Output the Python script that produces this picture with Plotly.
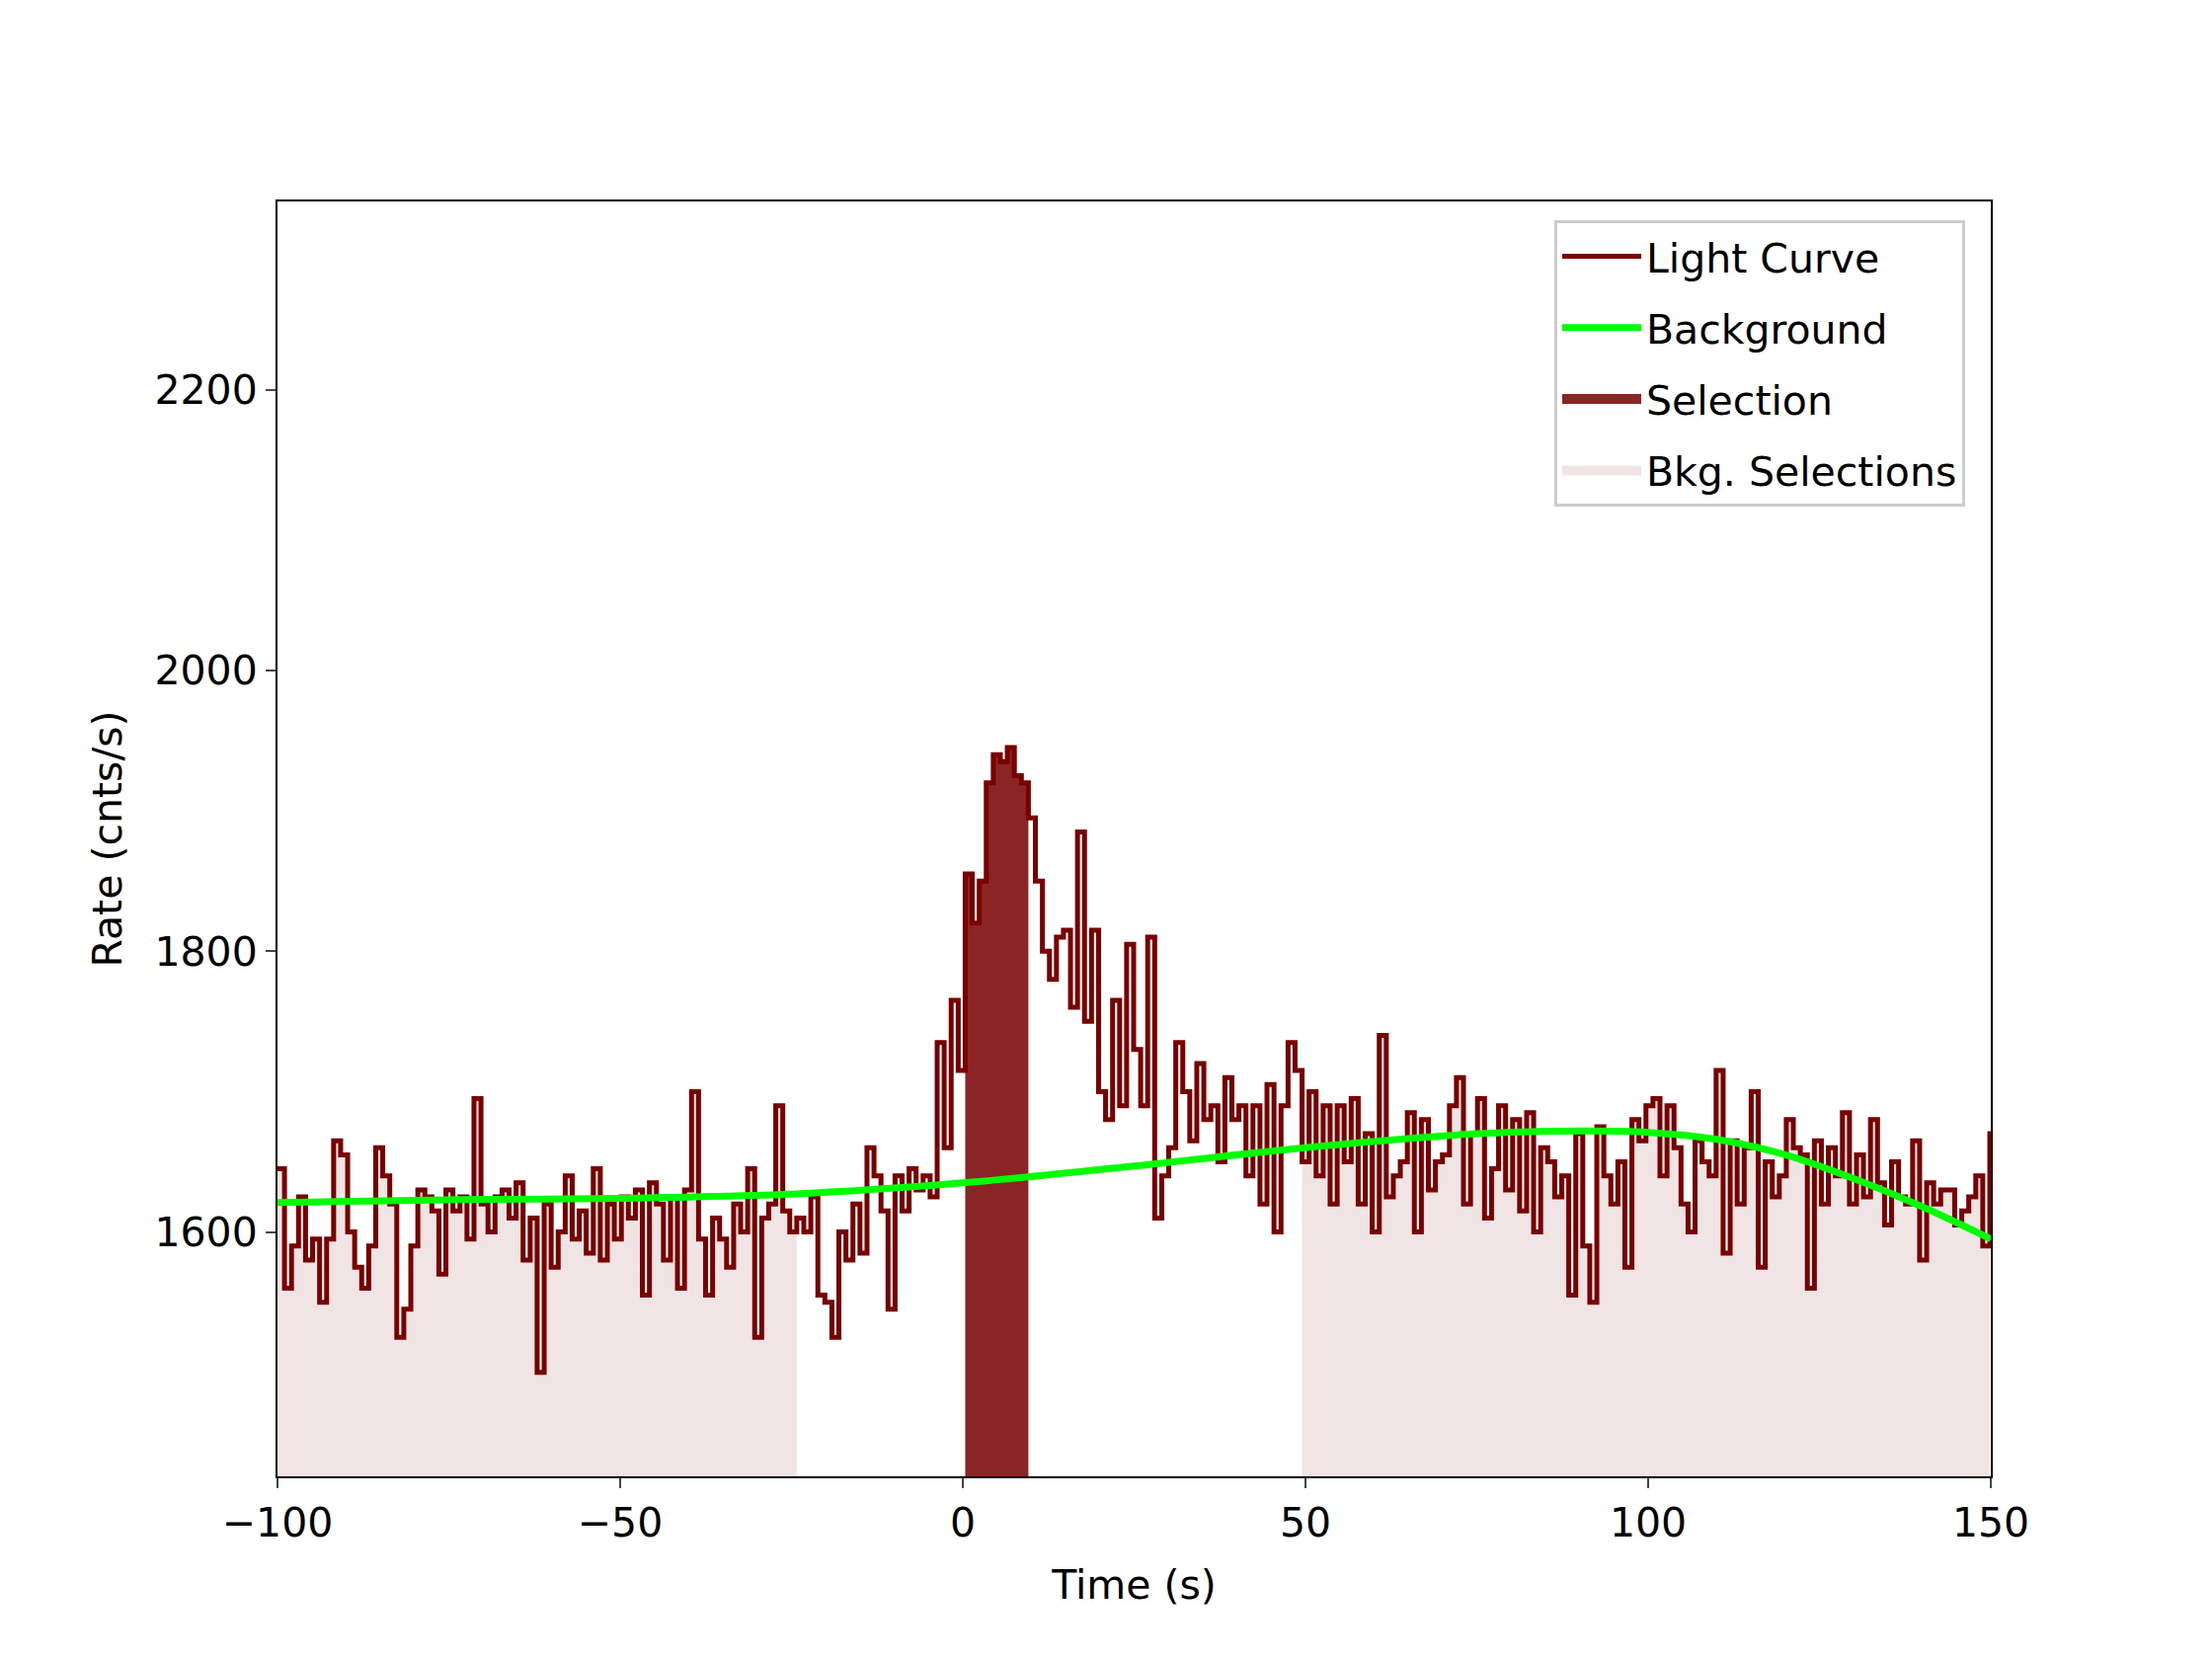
import plotly.graph_objects as go

bin_width = 1.024
t_start = -100.0
rates = [1645,1560,1590,1625,1580,1595,1550,1595,1665,1655,1600,1575,1560,1590,1660,1640,1620,1525,1545,1590,1630,1625,1615,1570,1630,
 1615,1625,1595,1695,1620,1600,1625,1630,1610,1635,1580,1610,1500,1620,1575,1600,1640,1595,1615,1585,1645,1580,1620,1595,1625,
 1610,1630,1555,1635,1620,1580,1625,1560,1630,1700,1595,1555,1610,1595,1575,1620,1600,1645,1525,1610,1620,1690,1615,1600,1610,
 1600,1625,1555,1550,1525,1600,1580,1620,1585,1660,1640,1615,1545,1640,1615,1645,1630,1640,1625,1735,1660,1765,1715,
 1855,1820,1850,1920,1940,1935,1945,1925,1920,1895,
 1850,1800,1780,1810,1815,1760,1885,1750,1815,1700,
 1680,1765,1690,1805,1730,1690,1810,1610,1640,1660,
 1735,1700,1665,1720,1680,1690,1650,1710,1680,1690,1640,1690,1620,1705,1600,1690,1735,1715,1650,
 1700,1640,1690,1620,1690,1650,1695,1620,1670,1600,1740,1625,1640,1650,1685,1600,1680,1630,1650,1655,
 1690,1710,1620,1670,1695,1610,1645,1690,1630,1680,1615,1685,1600,1660,1650,1625,1640,1555,1670,1590,
 1550,1675,1640,1620,1650,1575,1680,1665,1690,1695,1640,1690,1660,1620,1600,1665,1650,1640,1715,1585,
 1665,1620,1660,1700,1575,1650,1625,1640,1680,1660,1655,1560,1665,1620,1660,1640,1685,1620,1655,1625,
 1680,1635,1605,1650,1625,1620,1665,1580,1635,1620,1630,1630,1605,1615,1625,1640,1590,1670]
times = [t_start + i * bin_width for i in range(len(rates))]

bkg_t = [-100, -75, -50, -25, 0, 25, 50, 75, 90, 100, 110, 120, 130, 140, 150]
bkg_v = [1621, 1623, 1624, 1627, 1635, 1647, 1660, 1670, 1672, 1671, 1666, 1655, 1638, 1618, 1595]

sel_range = (0.0, 9.6)
bkg_ranges = [(-100.0, -24.0), (49.0, 150.0)]

def sub(lo, hi):
    xs, ys = [], []
    for t, r in zip(times, rates):
        if t >= lo - 1e-6 and t + bin_width <= hi + 0.6:
            xs.append(t); ys.append(r)
    if xs:
        xs.append(xs[-1] + bin_width); ys.append(ys[-1])
    return xs, ys

BKG_FILL = 'rgba(140,30,30,0.12)'
SEL_FILL = '#8b2525'
fig = go.Figure()
for lo, hi in bkg_ranges:
    xs, ys = sub(lo, hi)
    fig.add_trace(go.Scatter(x=xs, y=ys, mode='lines', line=dict(shape='hv', width=0),
                             fill='tozeroy', fillcolor=BKG_FILL, showlegend=False))
xs, ys = sub(*sel_range)
fig.add_trace(go.Scatter(x=xs, y=ys, mode='lines', line=dict(shape='hv', width=0),
                         fill='tozeroy', fillcolor=SEL_FILL, showlegend=False))
fig.add_trace(go.Scatter(x=times + [times[-1] + bin_width], y=rates + [rates[-1]], mode='lines',
                         line=dict(shape='hv', width=5, color='#7a0000'), name='Light Curve',
                         legendrank=1, legendgroup='a'))
fig.add_trace(go.Scatter(x=bkg_t, y=bkg_v, mode='lines', line=dict(shape='spline', width=7, color='#00ff00'),
                         name='Background', legendrank=2, legendgroup='b'))
fig.add_trace(go.Scatter(x=[None], y=[None], mode='lines', line=dict(width=22, color=SEL_FILL),
                         name='Selection', legendrank=3, legendgroup='c'))
fig.add_trace(go.Scatter(x=[None], y=[None], mode='lines', line=dict(width=22, color=BKG_FILL),
                         name='Bkg. Selections', legendrank=4, legendgroup='d'))

font = dict(family='DejaVu Sans', size=41, color='black')
fig.update_layout(
    width=2240, height=1680, paper_bgcolor='white', plot_bgcolor='white',
    margin=dict(l=273, r=232, t=196, b=193), font=font,
    legend=dict(x=0.985, y=0.985, xanchor='right', yanchor='top', bordercolor='#cccccc', borderwidth=3,
                bgcolor='rgba(255,255,255,0.8)', font=font, tracegroupgap=16, itemwidth=80),
    xaxis=dict(range=[-100, 150], tickvals=[-100, -50, 0, 50, 100, 150],
               ticktext=['\u2212100', '\u221250', '0', '50', '100', '150'],
               showgrid=False, zeroline=False, showline=True, mirror=True, linecolor='black', linewidth=2,
               ticks='outside', ticklen=10, tickwidth=2,
               title=dict(text='Time (s)', font=font, standoff=25)),
    yaxis=dict(range=[1426, 2334], tickvals=[1600, 1800, 2000, 2200],
               showgrid=False, zeroline=False, showline=True, mirror=True, linecolor='black', linewidth=2,
               ticks='outside', ticklen=10, tickwidth=2,
               title=dict(text='Rate (cnts/s)', font=font, standoff=20)),
)
fig.write_html('out.html')
